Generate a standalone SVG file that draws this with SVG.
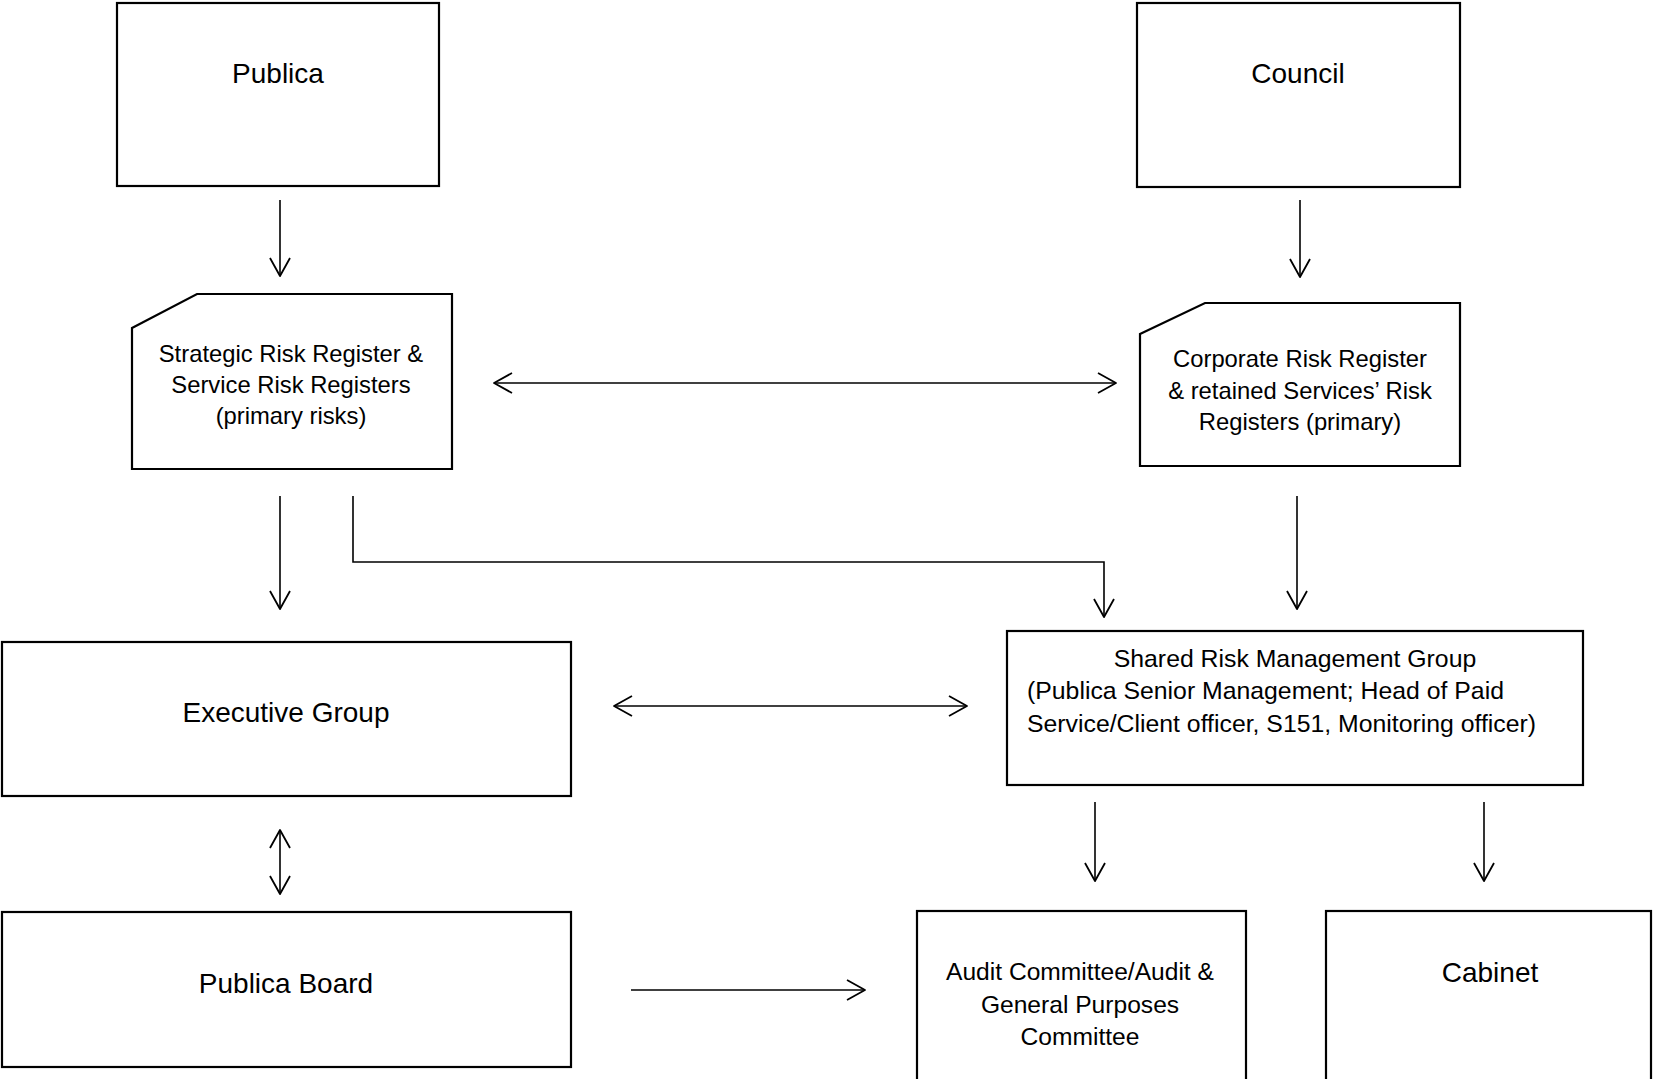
<svg xmlns="http://www.w3.org/2000/svg" width="1654" height="1079" viewBox="0 0 1654 1079">
<style>
.box{fill:#fff;stroke:#000;stroke-width:2.2}
.con{fill:none;stroke:#000;stroke-width:1.6}
text{font-family:"Liberation Sans",Arial,sans-serif;fill:#000}
.big{font-size:28px;text-anchor:middle}
.mid{font-size:23.8px;text-anchor:middle}
.aud{font-size:24.6px;text-anchor:middle}
.sh{font-size:24.8px}
</style>
<defs>
<marker id="arr" viewBox="-20 -12 22 24" refX="0" refY="0" markerWidth="22" markerHeight="24" markerUnits="userSpaceOnUse" orient="auto-start-reverse">
<path d="M-18,-10 L0,0 L-18,10" fill="none" stroke="#000" stroke-width="1.8" stroke-linejoin="round"/>
</marker>
</defs>
<rect width="1654" height="1079" fill="#fff"/>
<g id="publica"><rect class="box" x="117" y="3" width="322" height="183"/><text class="big" x="278" y="83">Publica</text></g>
<g id="council"><rect class="box" x="1137" y="3" width="323" height="184"/><text class="big" x="1298" y="83">Council</text></g>
<g id="strategic"><path class="box" d="M132,328 L197,294 L452,294 L452,469 L132,469 Z"/>
<text class="mid" x="291" y="362">Strategic Risk Register &amp;</text>
<text class="mid" x="291" y="393">Service Risk Registers</text>
<text class="mid" x="291" y="424">(primary risks)</text></g>
<g id="corporate"><path class="box" d="M1140,334 L1205,303 L1460,303 L1460,466 L1140,466 Z"/>
<text class="mid" x="1300" y="367">Corporate Risk Register</text>
<text class="mid" x="1300" y="399">&amp; retained Services’ Risk</text>
<text class="mid" x="1300" y="430">Registers (primary)</text></g>
<g id="executive"><rect class="box" x="2" y="642" width="569" height="154"/><text class="big" x="286" y="722">Executive Group</text></g>
<g id="shared"><rect class="box" x="1007" y="631" width="576" height="154"/>
<text class="sh" x="1295" y="667" text-anchor="middle">Shared Risk Management Group</text>
<text class="sh" x="1027" y="699">(Publica Senior Management; Head of Paid</text>
<text class="sh" x="1027" y="732">Service/Client officer, S151, Monitoring officer)</text></g>
<g id="board"><rect class="box" x="2" y="912" width="569" height="155"/><text class="big" x="286" y="993">Publica Board</text></g>
<g id="audit"><rect class="box" x="917" y="911" width="329" height="180"/>
<text class="aud" x="1080" y="980">Audit Committee/Audit &amp;</text>
<text class="aud" x="1080" y="1013">General Purposes</text>
<text class="aud" x="1080" y="1045">Committee</text></g>
<g id="cabinet"><rect class="box" x="1326" y="911" width="325" height="180"/><text class="big" x="1490" y="982">Cabinet</text></g>
<g id="connectors">
<path class="con" d="M280,200 V276" marker-end="url(#arr)"/>
<path class="con" d="M1300,200 V277" marker-end="url(#arr)"/>
<path class="con" d="M494,383 H1116" marker-start="url(#arr)" marker-end="url(#arr)"/>
<path class="con" d="M280,496 V609" marker-end="url(#arr)"/>
<path class="con" d="M353,496 V562 H1104 V617" marker-end="url(#arr)"/>
<path class="con" d="M1297,496 V609" marker-end="url(#arr)"/>
<path class="con" d="M614,706 H967" marker-start="url(#arr)" marker-end="url(#arr)"/>
<path class="con" d="M280,830 V894" marker-start="url(#arr)" marker-end="url(#arr)"/>
<path class="con" d="M631,990 H865" marker-end="url(#arr)"/>
<path class="con" d="M1095,802 V881" marker-end="url(#arr)"/>
<path class="con" d="M1484,802 V881" marker-end="url(#arr)"/>
</g>
</svg>
